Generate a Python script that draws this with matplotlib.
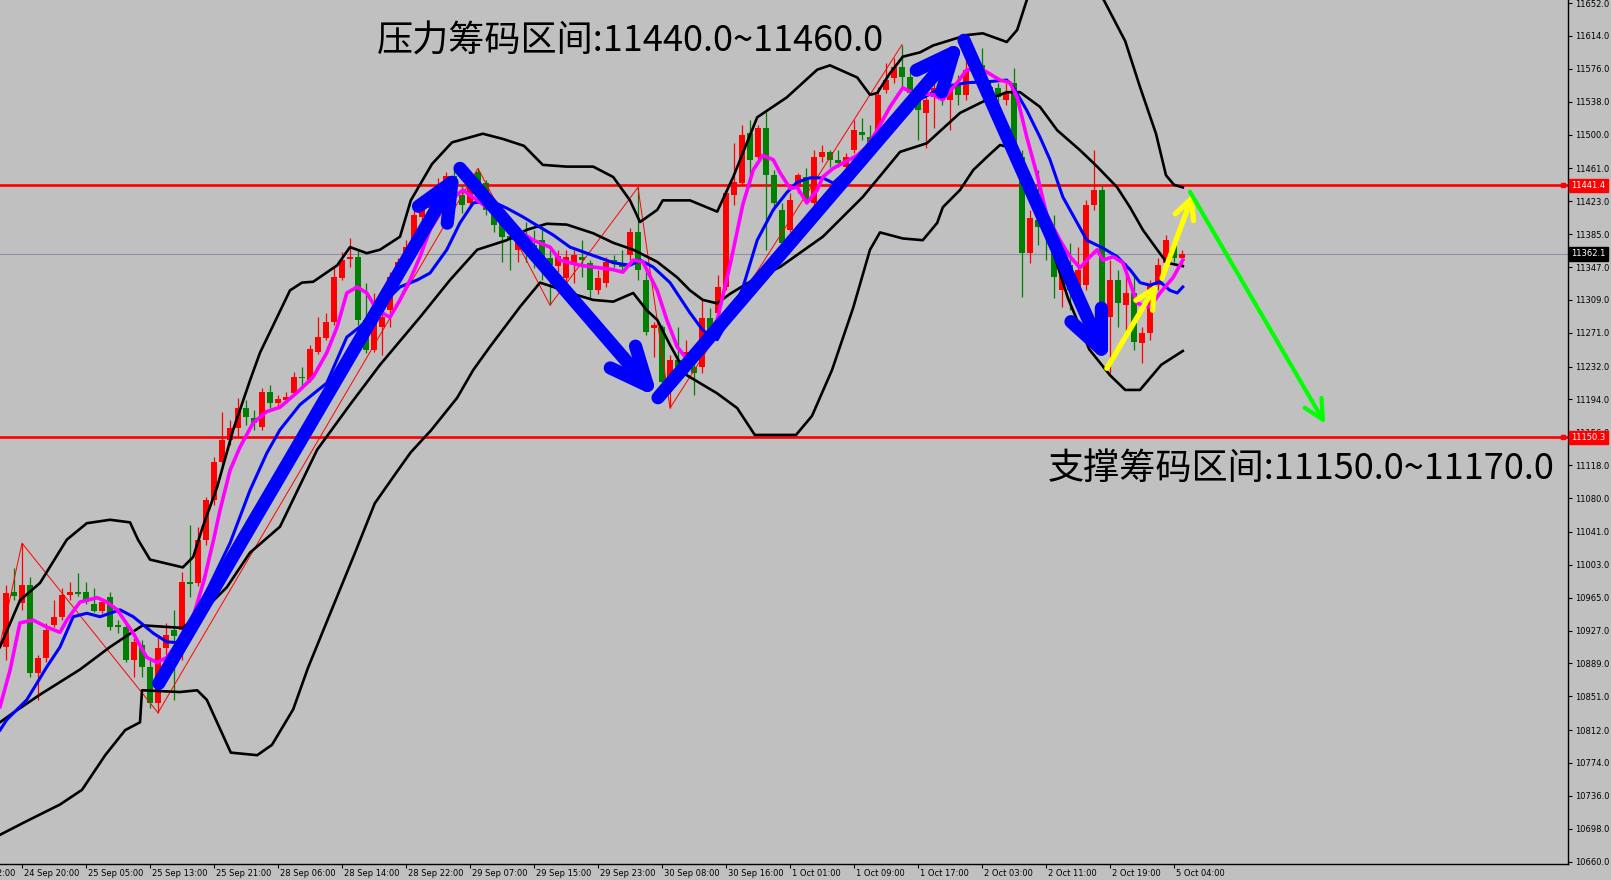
import matplotlib
matplotlib.use("Agg")
import matplotlib.pyplot as plt
import matplotlib.transforms as mtransforms
import numpy as np

# ---------------- data ----------------
opens = [10908,10972,10959,10980,10878,10895,10934,10943,10968,10972,
         10972,10958,10950,10966,10934,10931,10893,10910,10885,10843,
         10907,10928,10928,10983,10982,11032,11078,11122,11147,11161,
         11184,11173,11162,11203,11190,11193,11201,11220,11216,11249,
         11265,11283,11334,11356,11359,11286,11251,11278,11297,11335,
         11353,11372,11405,11415,11428,11438,11452,11430,11421,11457,
         11444,11413,11398,11383,11367,11380,11372,11378,11357,11348,
         11334,11349,11359,11352,11320,11328,11355,11352,11361,11387,
         11332,11276,11278,11214,11240,11243,11232,11232,11288,11294,
         11324,11430,11444,11502,11474,11508,11453,11413,11390,11440,
         11451,11421,11474,11480,11471,11463,11482,11503,11497,11505,
         11552,11565,11578,11567,11540,11525,11543,11554,11540,11557,
         11546,11584,11580,11555,11554,11540,11560,11474,11363,11401,
         11393,11390,11320,11349,11320,11326,11419,11436,11289,11332,
         11303,11317,11259,11271,11326,11352,11372,11357]
highs = [10980,10999,11028,10989,10899,10936,10962,10976,10983,10994,
         10983,10976,10962,10972,10939,10936,10918,10916,10893,10920,
         10936,10951,10995,11049,11047,11081,11128,11180,11170,11196,
         11193,11182,11207,11211,11199,11203,11226,11231,11257,11289,
         11294,11347,11364,11380,11367,11328,11317,11303,11341,11357,
         11378,11413,11424,11436,11450,11457,11459,11442,11457,11461,
         11448,11419,11404,11386,11380,11399,11390,11393,11367,11367,
         11367,11367,11378,11355,11344,11359,11361,11367,11392,11439,
         11344,11283,11280,11245,11278,11263,11240,11309,11300,11338,
         11436,11490,11511,11517,11511,11526,11459,11421,11433,11456,
         11461,11482,11488,11482,11482,11479,11517,11519,11511,11555,
         11583,11588,11604,11577,11552,11543,11563,11569,11575,11569,
         11586,11598,11600,11563,11560,11560,11577,11482,11413,11459,
         11405,11407,11359,11375,11370,11424,11482,11442,11355,11344,
         11352,11338,11278,11332,11357,11384,11378,11367]
lows = [10893,10962,10951,10873,10847,10891,10931,10939,10962,10967,
        10958,10949,10947,10928,10924,10891,10873,10873,10838,10832,
        10899,10847,10893,10966,10978,11026,11072,11117,11141,11151,
        11165,11159,11159,11184,11185,11190,11199,11208,11214,11246,
        11263,11280,11332,11347,11280,11248,11249,11245,11278,11332,
        11349,11368,11390,11401,11419,11434,11424,11409,11418,11441,
        11407,11387,11353,11344,11353,11353,11346,11332,11303,11341,
        11326,11328,11335,11311,11316,11324,11347,11341,11355,11332,
        11268,11243,11201,11184,11228,11237,11199,11225,11263,11289,
        11320,11419,11442,11439,11471,11367,11413,11370,11388,11433,
        11421,11416,11468,11463,11463,11459,11479,11494,11490,11500,
        11548,11560,11555,11540,11494,11484,11508,11534,11505,11534,
        11540,11572,11552,11546,11532,11534,11471,11312,11352,11372,
        11355,11311,11301,11297,11315,11320,11413,11274,11225,11278,
        11274,11251,11236,11263,11320,11346,11353,11349]
closes = [10970,10967,10980,10878,10895,10928,10943,10968,10972,10969,
          10960,10950,10960,10931,10931,10893,10914,10885,10843,10907,
          10922,10921,10983,10981,11032,11078,11122,11147,11161,11184,
          11174,11167,11203,11190,11194,11197,11220,11219,11252,11266,
          11283,11335,11355,11359,11286,11251,11282,11289,11335,11353,
          11370,11407,11415,11428,11442,11452,11430,11419,11453,11444,
          11413,11396,11382,11378,11378,11370,11367,11352,11349,11360,
          11359,11361,11355,11320,11334,11353,11353,11347,11387,11344,
          11272,11280,11214,11240,11232,11249,11225,11288,11271,11324,
          11433,11445,11500,11471,11508,11453,11421,11375,11424,11453,
          11424,11474,11480,11471,11467,11474,11505,11500,11491,11546,
          11563,11578,11567,11548,11528,11540,11554,11546,11557,11546,
          11575,11575,11563,11552,11543,11549,11474,11363,11404,11393,
          11385,11336,11349,11320,11344,11419,11436,11289,11332,11305,
          11317,11260,11271,11326,11349,11378,11357,11362.1]

upper_x = [-0.75,1.75,4.25,7.6,10.1,13,15.5,16.5,18,22.1,23.4,24.6,26.4,28.4,30.5,31.75,35.5,37,38.4,41.4,
           43,45.1,46.75,49.25,50.6,53.25,55.75,59.6,62.1,64.75,67.1,70.1,73.4,75.9,78,79.25,81.4,82.1,85.5,88.9,
           90.9,93.9,97.6,101.4,103,106.4,108,108.9,110.5,112.1,114.25,115.9,120.1,122.1,125.1,126.4,128,130.5,133.6,137.25,
           139.9,141.75,143.75,145,146,147.1]
upper_p = [10908,10962,10982,11032,11051,11055,11052,11032,11009,11000,11012,11047,11093,11159,11216,11248,11320,11329,11330,11349,
           11370,11363,11367,11382,11424,11466,11491,11501,11495,11487,11465,11463,11463,11451,11424,11399,11413,11424,11424,11411,
           11451,11520,11543,11575,11580,11566,11546,11548,11571,11590,11595,11603,11615,11617,11607,11621,11667,11702,11702,11655,
           11608,11555,11501,11453,11442,11439]

mid_x = [-0.75,0.9,4.25,9.25,13,16.75,17.1,22.1,25.1,27.6,30.5,34.25,38.9,43,46.75,51.75,55.5,58.9,62.6,65.1,
         67.6,70.1,73.4,75.9,78.4,81.4,83.9,85.5,87.1,88.9,90.5,93,96.75,102.1,107.1,111.75,115.1,119.25,122.1,125.1,
         126.75,129.25,131.4,134.25,136.4,138.9,140.5,142.1,143.9,145.1,147.1]
mid_p = [10821,10832,10853,10882,10908,10931,10933,10930,10954,10977,11017,11047,11136,11188,11234,11289,11332,11367,11378,11390,
         11397,11396,11386,11375,11367,11353,11335,11320,11309,11305,11316,11330,11347,11382,11428,11480,11490,11525,11538,11549,
         11549,11532,11505,11482,11463,11439,11416,11390,11367,11352,11348]

low_x = [-0.75,2.4,6.75,9.5,12.4,14.9,16.75,17,21.75,23.9,25.1,28.1,31.4,33.25,35.9,37.75,40.4,43.5,46.1,48.75,
         50.6,53.1,56.4,58.4,60.5,64.25,66.75,68.4,70.5,73.4,75.9,78.4,80.1,81.4,83,85.1,88.9,91.4,93.6,98.75,
         100.75,103.25,105.9,108,109.25,112.1,114.6,116.4,117.1,119.25,120.9,122.6,124.25,126.4,128,130.25,132.75,135.4,138,139.9,
         141.75,144.4,147.1]
low_p = [10691,10706,10726,10743,10783,10812,10821,10858,10856,10858,10847,10786,10783,10795,10836,10884,10944,11014,11074,11109,
         11133,11158,11196,11228,11255,11301,11329,11324,11317,11309,11307,11317,11297,11286,11257,11222,11201,11184,11153,11153,
         11175,11228,11300,11367,11387,11380,11378,11398,11416,11436,11459,11474,11488,11483,11436,11383,11311,11252,11222,11205,
         11205,11234,11250]

mag_x = [-0.75,0.5,1.75,3.4,5.1,6.75,7.6,9.25,11.4,12.6,13.9,15.9,17.6,18.9,20.1,21.75,23.4,24.75,26,26.75,
         28,29.25,30.9,32.6,34.25,36.75,38.4,40.1,41.4,42.6,43.9,45.1,46.4,48,49.25,50.5,51.75,53,54.9,57.1,
         60.1,63,65.9,68,69.25,71.75,75.9,77.1,78.4,79.6,81.4,82.6,83.9,84.9,86.1,88.9,90.5,92.1,93.4,94.6,
         95.9,96.75,98,98.9,100.1,101.4,102.1,103.4,104.6,106.4,107.6,108.9,110.5,112.1,113.4,115.9,117.1,118.9,120.1,122.1,
         124.25,125.5,126.4,127.6,128.9,130.1,131.75,133,134.25,135.5,136.4,137.1,138.4,139.6,140.5,141.4,143,144.25,145.9,147.1]
mag_p = [10839,10881,10936,10939,10931,10925,10939,10960,10965,10960,10951,10924,10896,10890,10896,10916,10943,10985,11034,11066,
         11112,11139,11167,11180,11185,11205,11220,11248,11278,11317,11324,11317,11297,11289,11309,11332,11359,11390,11419,11436,
         11416,11396,11378,11370,11355,11349,11344,11341,11355,11353,11320,11286,11255,11243,11245,11286,11349,11419,11459,11476,
         11471,11456,11438,11439,11421,11436,11451,11461,11467,11476,11486,11505,11532,11554,11548,11546,11540,11560,11575,11575,
         11563,11560,11543,11497,11453,11407,11378,11359,11346,11359,11367,11355,11359,11352,11329,11305,11301,11317,11335,11355]

blue_x = [-0.75,0.1,2.6,5.1,6.75,8.4,10.1,11.75,13,14.25,15.9,17.1,18.4,20.1,21.4,23,25.5,28,30.5,32.6,
          34.25,36.75,40.1,42.6,44.25,47.6,49.25,51.4,53,55.1,56.75,58.4,60.5,62.6,64.6,66.75,68.4,70.5,72.6,75.9,
          78,79.25,80.9,83,85.5,87.1,88.9,90.5,92.1,93.9,95.9,97.6,98.9,100.5,102.1,103.4,108,111.75,117.1,120.1,
          122.6,125.1,125.9,127.6,129.25,130.5,132.1,133.9,135.1,137.1,138.9,140.5,141.75,143,144.25,145.5,146.4,147.1]
blue_p = [10812,10824,10847,10885,10908,10943,10947,10943,10947,10951,10943,10934,10924,10914,10913,10933,10980,11028,11089,11132,
          11159,11188,11213,11266,11278,11309,11324,11332,11340,11367,11398,11421,11424,11415,11405,11393,11384,11370,11363,11352,
          11349,11355,11347,11329,11294,11274,11263,11289,11323,11378,11413,11433,11445,11450,11450,11444,11482,11528,11555,11560,
          11561,11563,11555,11528,11497,11471,11428,11398,11378,11369,11359,11344,11329,11326,11330,11320,11317,11324]

zigzag_x = [-1, 2, 19, 59, 68, 79, 83, 112]
zigzag_p = [10900, 11028, 10832, 11461, 11303, 11439, 11184, 11604]

blue_arrow_x = [19.1, 56.75, 81.5, 119.75, 137.75]
blue_arrow_p = [10866, 11461, 11196, 11609, 11235]
yellow_arrows = [((137.6, 11230), (143.9, 11328)), ((144.5, 11334), (148.4, 11432))]
green_arrow = ((148.0, 11434), (164.9, 11166))

resistance_level = 11441.4
support_level = 11150.3
bid_price = 11362.1

ytick_values = [11652, 11614, 11576, 11538, 11500, 11461, 11423, 11385, 11347, 11309, 11271, 11232, 11194,
                11156, 11118, 11080, 11041, 11003, 10965, 10927, 10889, 10851, 10812, 10774, 10736, 10698, 10660]
xtick_bars = [-6, 2, 10, 18, 26, 34, 42, 50, 58, 66, 74, 82, 90, 98, 106, 114, 122, 130, 138, 146]
xtick_labels = ["24 Sep 12:00", "24 Sep 20:00", "25 Sep 05:00", "25 Sep 13:00", "25 Sep 21:00", "28 Sep 06:00",
                "28 Sep 14:00", "28 Sep 22:00", "29 Sep 07:00", "29 Sep 15:00", "29 Sep 23:00", "30 Sep 08:00",
                "30 Sep 16:00", "1 Oct 01:00", "1 Oct 09:00", "1 Oct 17:00", "2 Oct 03:00", "2 Oct 11:00",
                "2 Oct 19:00", "5 Oct 04:00"]

title_top = "压力筹码区间:11440.0~11460.0"
title_bottom = "支撑筹码区间:11150.0~11170.0"

# ---------------- figure ----------------
BG = "#C0C0C0"
W, H = 1611, 880
fig = plt.figure(figsize=(W / 100, H / 100), dpi=100, facecolor=BG)
ax = fig.add_axes([0, 16 / H, 1568 / W, 864 / H], facecolor=BG)
ax.set_xlim(-0.75, 195.25)
ax.set_ylim(10657.3, 11655.5)

# horizontal levels
ax.axhline(bid_price, color="#8A93A3", lw=0.8, zorder=1)
ax.axhline(resistance_level, color="#FF0000", lw=1.9, zorder=1.5)
ax.axhline(support_level, color="#FF0000", lw=1.9, zorder=1.5)

# candles
o = np.array(opens, float); c = np.array(closes, float)
h = np.array(highs, float); l = np.array(lows, float)
idx = np.arange(len(o))
cols = np.where(c >= o, "#FF0000", "#008000")
ax.vlines(idx, l, h, colors=cols, lw=0.9, zorder=2)
body_bottom = np.minimum(o, c)
body_h = np.maximum(np.abs(c - o), 1.0)
ax.bar(idx, body_h, bottom=body_bottom, width=0.65, color=cols, lw=0, zorder=2.1)

# zigzag
ax.plot(zigzag_x, zigzag_p, color="#FF0000", lw=0.7, zorder=2.2)

# bollinger-type bands
for xs, ps in ((upper_x, upper_p), (mid_x, mid_p), (low_x, low_p)):
    ax.plot(xs, ps, color="black", lw=1.9, zorder=3, solid_joinstyle="round")

# moving averages
ax.plot(blue_x, blue_p, color="#0000FF", lw=2.2, zorder=3.2, solid_joinstyle="round")
ax.plot(mag_x, mag_p, color="#FF00FF", lw=2.6, zorder=3.3, solid_joinstyle="round")

def draw_arrow(p0, p1, color, lw, hl, hw, z):
    ax.annotate("", xy=p1, xytext=p0,
                arrowprops=dict(arrowstyle=f"->,head_length={hl},head_width={hw}",
                                color=color, lw=lw, shrinkA=0, shrinkB=0,
                                mutation_scale=1),
                zorder=z, annotation_clip=False)

for k in range(len(blue_arrow_x) - 1):
    draw_arrow((blue_arrow_x[k], blue_arrow_p[k]), (blue_arrow_x[k + 1], blue_arrow_p[k + 1]),
               "#0000FF", 9.5, 27, 12, 6)
for a0, a1 in yellow_arrows:
    draw_arrow(a0, a1, "#FFFF00", 3.8, 14, 7, 7)
draw_arrow(green_arrow[0], green_arrow[1], "#00FF00", 3.0, 14, 7, 7)

# texts
cjk = ["Noto Sans CJK SC", "DejaVu Sans"]
ax.text(78, 11608, title_top, fontsize=26, family=cjk, ha="center", va="center", color="black", zorder=8)
ax.text(161.9, 11114, title_bottom, fontsize=26, family=cjk, ha="center", va="center", color="black", zorder=8)

# axes styling
for s in ("top", "left"):
    ax.spines[s].set_visible(False)
for s in ("right", "bottom"):
    ax.spines[s].set_color("black")
    ax.spines[s].set_linewidth(1.0)

ax.yaxis.tick_right()
ax.set_yticks(ytick_values)
ax.set_yticklabels([f"{v:.1f}" for v in ytick_values])
ax.tick_params(axis="y", direction="out", length=3, width=0.8, pad=2, labelsize=6, colors="black")

vis_ticks = [b for b in xtick_bars if b >= -0.75]
ax.set_xticks(vis_ticks)
ax.set_xticklabels([])
ax.tick_params(axis="x", direction="out", length=3, width=0.8)
btrans = mtransforms.blended_transform_factory(ax.transData, ax.transAxes)
for b, lab in zip(xtick_bars, xtick_labels):
    ax.text(b + 0.25, -0.006, lab, transform=btrans, fontsize=6, ha="left", va="top",
            color="black", clip_on=False)

# price boxes on the right scale
rtrans = mtransforms.blended_transform_factory(fig.transFigure, ax.transData)
for val, bg in ((resistance_level, "#FF0000"), (support_level, "#FF0000"), (bid_price, "#000000")):
    ax.text(1571.5 / W, val, f"{val:.1f}", transform=rtrans, fontsize=6, color="white",
            ha="left", va="center", clip_on=False, zorder=20,
            bbox=dict(boxstyle="square,pad=0.25", fc=bg, ec=bg))
for val in (resistance_level, support_level):
    ax.plot([194.6], [val], marker="s", ms=3.5, mfc="#FF0000", mec="#FF0000", clip_on=False, zorder=19)

fig.savefig("out.png", dpi=100, facecolor=BG)
